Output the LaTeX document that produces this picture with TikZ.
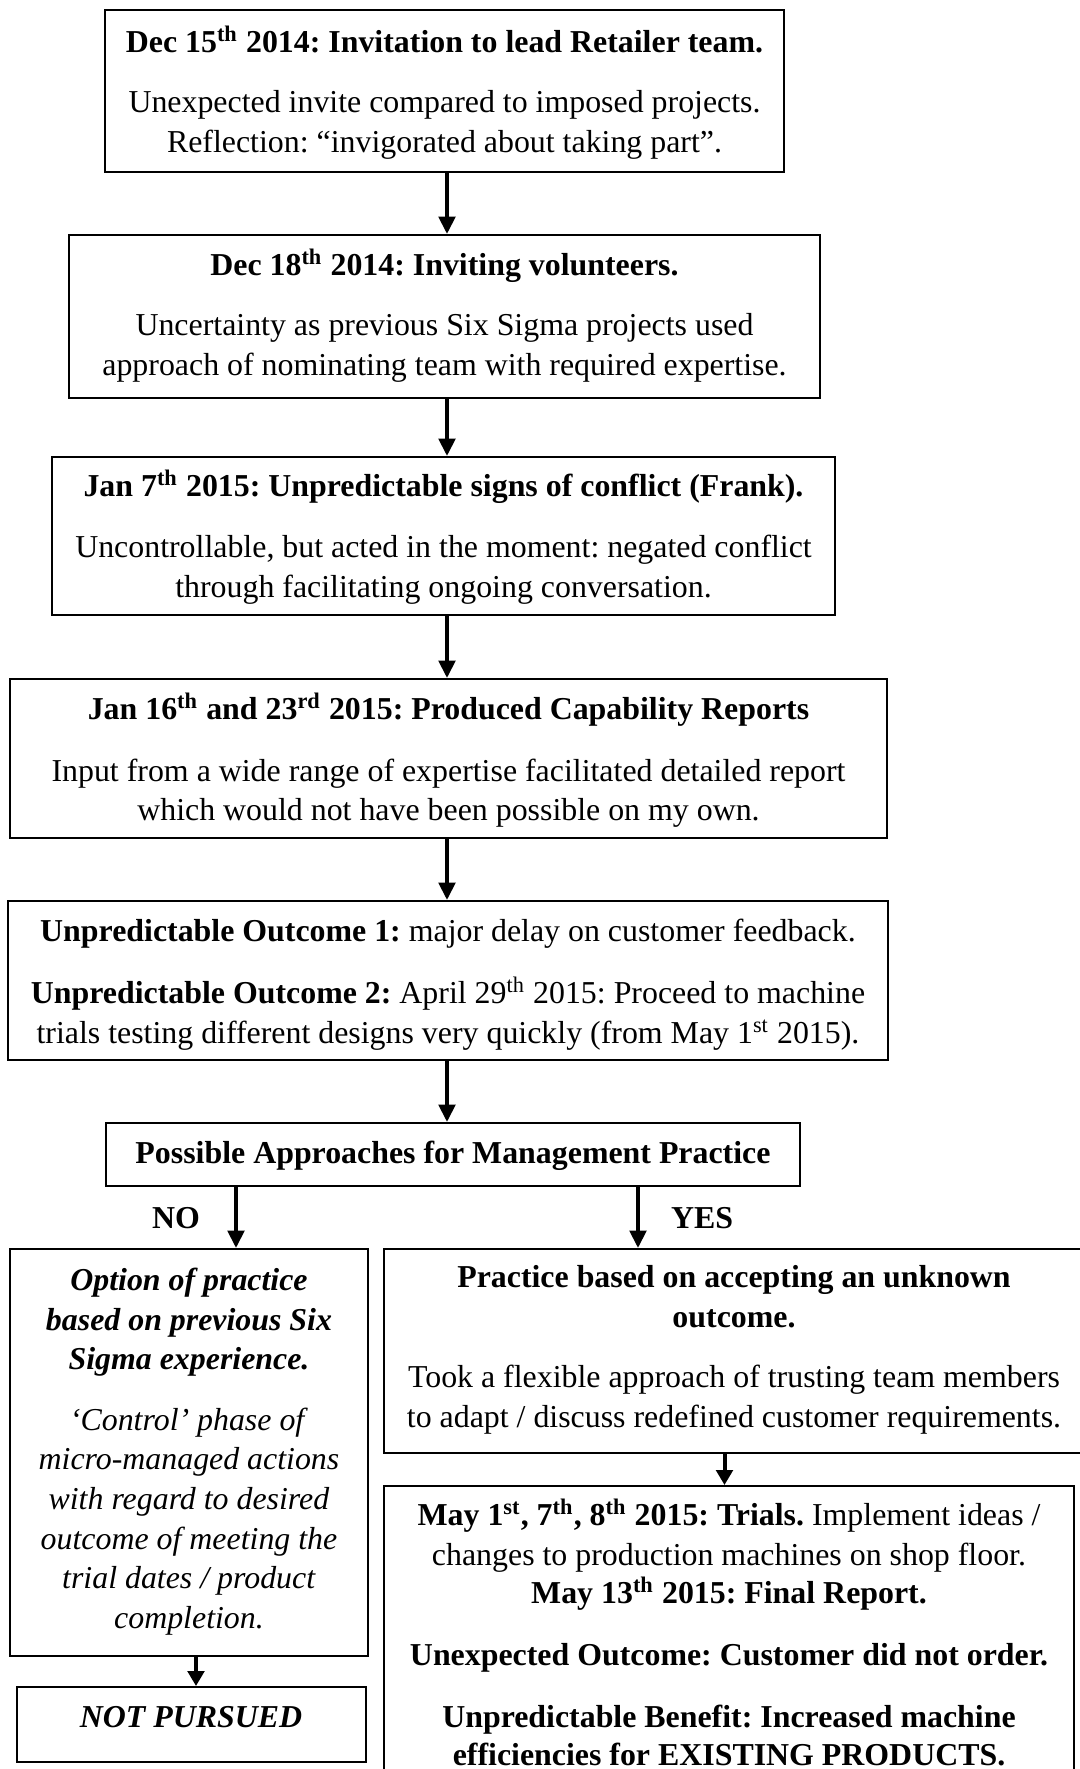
\documentclass[tikz,border=0pt]{standalone}
\usepackage{fontspec}
\setmainfont{Liberation Serif}
\usetikzlibrary{arrows.meta,fit}
\frenchspacing
\begin{document}
\begin{tikzpicture}[x=0.4pt,y=-0.4pt,
  box/.style={draw, line width=0.8pt, inner sep=0pt},
  txt/.style={anchor=base, inner sep=0pt, font=\fontsize{12.75}{16}\selectfont},
  arr/.style={line width=1.6pt, -{Triangle[length=7pt,width=6.6pt]}},
  sarr/.style={line width=1.6pt, -{Triangle[length=6pt,width=6.6pt]}}]
\path[use as bounding box] (0,0) rectangle (1080,1769);
\clip (0,0) rectangle (1080,1769);

% boxes
\node[box, fit={(105,9.5) (784,171.5)}] (b1) {};
\node[box, fit={(69,235) (820,398)}] (b2) {};
\node[box, fit={(52,457) (835,615)}] (b3) {};
\node[box, fit={(10,679) (887,838)}] (b4) {};
\node[box, fit={(8,901) (888,1060)}] (b5) {};
\node[box, fit={(106,1123) (800,1186)}] (b6) {};
\node[box, fit={(10,1249) (368,1656)}] (bL) {};
\node[box, fit={(16.5,1687) (366,1762)}] (bN) {};
\node[box, fit={(384,1249) (1084,1453)}] (bR) {};
\node[box, fit={(384,1486) (1074,1800)}] (bS) {};

% texts
\node[txt] (t1a) at (444.5,52) {\textbf{Dec 15\textsuperscript{th} 2014: Invitation to lead Retailer team.}};
\node[txt] (t1b) at (444.5,112) {Unexpected invite compared to imposed projects.};
\node[txt] (t1c) at (444.5,152) {Reflection: “invigorated about taking part”.};

\node[txt] (t2a) at (444.5,275) {\textbf{Dec 18\textsuperscript{th} 2014: Inviting volunteers.}};
\node[txt] (t2b) at (444.5,335) {Uncertainty as previous Six Sigma projects used};
\node[txt] (t2c) at (444.5,375) {approach of nominating team with required expertise.};

\node[txt] (t3a) at (443.5,496) {\textbf{Jan 7\textsuperscript{th} 2015: Unpredictable signs of conflict (Frank).}};
\node[txt] (t3b) at (443.5,557) {Uncontrollable, but acted in the moment: negated conflict};
\node[txt] (t3c) at (443.5,597) {through facilitating ongoing conversation.};

\node[txt] (t4a) at (448.5,719) {\textbf{Jan 16\textsuperscript{th} and 23\textsuperscript{rd} 2015: Produced Capability Reports}};
\node[txt] (t4b) at (448.5,781) {Input from a wide range of expertise facilitated detailed report};
\node[txt] (t4c) at (448.5,820) {which would not have been possible on my own.};

\node[txt] (t5a) at (448,941) {\textbf{Unpredictable Outcome 1:} major delay on customer feedback.};
\node[txt] (t5b) at (448,1003) {\textbf{Unpredictable Outcome 2:} April 29\textsuperscript{th} 2015: Proceed to machine};
\node[txt] (t5c) at (448,1043) {trials testing different designs very quickly (from May 1\textsuperscript{st} 2015).};

\node[txt] (t6) at (453,1163) {\textbf{Possible Approaches for Management Practice}};

\node[txt] (tno) at (176,1228) {\textbf{NO}};
\node[txt] (tyes) at (702,1228) {\textbf{YES}};

\node[txt] (tLa) at (189,1290) {\textbf{\textit{Option of practice}}};
\node[txt] (tLb) at (189,1330) {\textbf{\textit{based on previous Six}}};
\node[txt] (tLc) at (189,1369) {\textbf{\textit{Sigma experience.}}};
\node[txt] (tLd) at (189,1430) {\textit{‘Control’ phase of}};
\node[txt] (tLe) at (189,1469) {\textit{micro-managed actions}};
\node[txt] (tLf) at (189,1509) {\textit{with regard to desired}};
\node[txt] (tLg) at (189,1549) {\textit{outcome of meeting the}};
\node[txt] (tLh) at (189,1588) {\textit{trial dates / product}};
\node[txt] (tLi) at (189,1628) {\textit{completion.}};

\node[txt] (tN) at (191,1727) {\textbf{\textit{NOT PURSUED}}};

\node[txt] (tRa) at (734,1287) {\textbf{Practice based on accepting an unknown}};
\node[txt] (tRb) at (734,1327) {\textbf{outcome.}};
\node[txt] (tRc) at (734,1387) {Took a flexible approach of trusting team members};
\node[txt] (tRd) at (734,1427) {to adapt / discuss redefined customer requirements.};

\node[txt] (tSa) at (729,1525) {\textbf{May 1\textsuperscript{st}, 7\textsuperscript{th}, 8\textsuperscript{th} 2015: Trials.} Implement ideas /};
\node[txt] (tSb) at (729,1565) {changes to production machines on shop floor.};
\node[txt] (tSc) at (729,1603) {\textbf{May 13\textsuperscript{th} 2015: Final Report.}};
\node[txt] (tSd) at (729,1665) {\textbf{Unexpected Outcome: Customer did not order.}};
\node[txt] (tSe) at (729,1727) {\textbf{Unpredictable Benefit: Increased machine}};
\node[txt] (tSf) at (729,1765) {\textbf{efficiencies for EXISTING PRODUCTS.}};

% connectors
\coordinate (xmain) at (447,0);
\coordinate (xno) at (236,0);
\coordinate (xyes) at (638,0);
\coordinate (xleft) at (196,0);
\coordinate (xright) at (724.5,0);
\draw[arr] (b1.south -| xmain) -- (b2.north -| xmain);
\draw[arr] (b2.south -| xmain) -- (b3.north -| xmain);
\draw[arr] (b3.south -| xmain) -- (b4.north -| xmain);
\draw[arr] (b4.south -| xmain) -- (b5.north -| xmain);
\draw[arr] (b5.south -| xmain) -- (b6.north -| xmain);
\draw[arr] (b6.south -| xno) -- (bL.north -| xno);
\draw[arr] (b6.south -| xyes) -- (bR.north -| xyes);
\draw[sarr] (bL.south -| xleft) -- (bN.north -| xleft);
\draw[sarr] (bR.south -| xright) -- (bS.north -| xright);
\end{tikzpicture}
\end{document}
